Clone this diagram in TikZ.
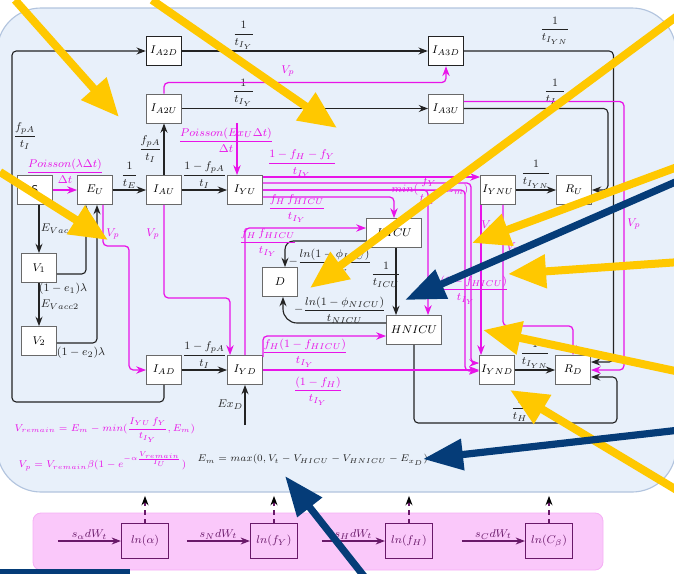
\documentclass[tikz,border=0pt]{standalone}
\usepackage{amsmath}
\usepackage{tikz}
\usetikzlibrary{arrows.meta, positioning, calc}
\definecolor{mymag}{RGB}{232,20,232}
\definecolor{mydark}{RGB}{35,35,35}
\definecolor{myedge}{RGB}{105,105,105}
\definecolor{mypurple}{RGB}{105,25,105}
\definecolor{hdrblue}{RGB}{232,240,250}
\definecolor{lineblue}{RGB}{178,196,222}
\definecolor{hdrpink}{RGB}{250,200,250}
\definecolor{linepink}{RGB}{245,175,245}
\definecolor{myyellow}{RGB}{255,200,0}
\definecolor{mynavy}{RGB}{5,60,120}
\tikzset{
  box/.style={rectangle, draw=myedge, fill=white, minimum width=0.875cm,
    minimum height=0.725cm, inner sep=1pt, line width=0.6pt},
  darkbox/.style={box, draw=mydark, line width=1pt},
  widebox/.style={box, minimum width=1.375cm},
  sbox/.style={rectangle, draw=mypurple, minimum width=1.175cm,
    minimum height=0.875cm, line width=0.8pt, text=mypurple},
  arrow/.style={-Stealth, line width=0.8pt, color=mydark, rounded corners=3pt},
  marrow/.style={-Stealth, line width=0.9pt, color=mymag, rounded corners=3pt},
  parrow/.style={-Stealth, line width=0.8pt, color=mypurple},
  dasharrow/.style={-{Stealth[black]}, dashed, line width=0.8pt, color=mypurple},
  lbl/.style={inner sep=1pt, text=mydark},
  mlbl/.style={inner sep=1pt, text=mymag},
  plbl/.style={inner sep=1pt, text=mypurple},
  formula/.style={inner sep=1pt, anchor=west, font=\fontsize{7}{8.5}\selectfont},
  yarrow/.style={-{Triangle[length=0.95cm, width=0.8cm]}, line width=0.2cm, color=myyellow},
  narrow/.style={-{Triangle[length=1cm, width=0.75cm]}, line width=0.18cm, color=mynavy}
}
\begin{document}
\begin{tikzpicture}[x=0.025cm, y=-0.025cm, font=\fontsize{8}{9.5}\selectfont]
  \useasboundingbox (0,0) rectangle (674,573);
  % panels
  \draw[fill=hdrblue, draw=lineblue, line width=0.8pt, rounded corners=1.1cm] (-3,8) rectangle (676,492);
  \draw[fill=hdrpink, draw=linepink, line width=0.6pt, rounded corners=0.2cm] (33,513) rectangle (603,570);

  % compartments
  \node[box] (S) at (35,190) {\textsf{S}};
  \node[box] (EU) at (95,190) {$E_U$};
  \node[box] (IAU) at (164,190) {$I_{AU}$};
  \node[box] (IYU) at (245,190) {$I_{YU}$};
  \node[box] (IYNU) at (498,190) {$I_{YNU}$};
  \node[box] (RU) at (574,190) {$R_U$};
  \node[darkbox] (IA2D) at (164,51) {$I_{A2D}$};
  \node[darkbox] (IA3D) at (446,51) {$I_{A3D}$};
  \node[box] (IA2U) at (164,108.5) {$I_{A2U}$};
  \node[box] (IA3U) at (446,108.5) {$I_{A3U}$};
  \node[widebox] (HICU) at (394,233) {$HICU$};
  \node[box] (D) at (280,282) {$D$};
  \node[widebox] (HNICU) at (414,330) {$HNICU$};
  \node[box] (V1) at (39,268) {$V_1$};
  \node[box] (V2) at (39,341) {$V_2$};
  \node[box] (IAD) at (164,370) {$I_{AD}$};
  \node[box] (IYD) at (245,370) {$I_{YD}$};
  \node[box] (IYND) at (497,370) {$I_{YND}$};
  \node[box] (RD) at (573,370) {$R_D$};

  % black flows
  \draw[arrow] (V1 |- S.south) -- node[right, lbl]{$E_{Vacc1}$} (V1.north);
  \draw[arrow] (V1) -- node[right, lbl]{$E_{Vacc2}$} (V2);
  \draw[arrow] ($(V1.east)+(0,6)$) -| ($(EU.south)+(-9,0)$);
  \node[lbl] (le1) at (63,289) {$(1-e_1)\lambda$};
  \draw[arrow] ($(V2.east)+(0,2)$) -| ($(EU.south)+(2,0)$);
  \node[lbl] (le2) at (81,353) {$(1-e_2)\lambda$};
  \draw[arrow] (EU) -- node[above, lbl]{$\dfrac{1}{t_E}$} (IAU);
  \draw[arrow] (IAU) -- node[left, lbl]{$\dfrac{f_{pA}}{t_I}$} (IA2U);
  \draw[arrow] (IAU) -- node[above, lbl]{$\dfrac{1-f_{pA}}{t_I}$} (IYU);
  \draw[arrow] (IA2U) -- node[above, lbl, pos=0.25]{$\dfrac{1}{t_{I_Y}}$} (IA3U);
  \draw[arrow] (IA2D) -- node[above, lbl, pos=0.25]{$\dfrac{1}{t_{I_Y}}$} (IA3D);
  \coordinate (loopL) at (12,402);
  \draw[arrow] (IAD.south) |- (loopL) |- (IA2D.west);
  \node[lbl] (lfpa) at (25,136) {$\dfrac{f_{pA}}{t_I}$};
  \draw[arrow] (IA3D.east) -| ($(RD.east)+(22.5,-8)$) -- ($(RD.east)+(0,-8)$);
  \node[lbl] (lyn1) at (555,31) {$\dfrac{1}{t_{I_{YN}}}$};
  \draw[arrow] (IA3U.east) -| ($(RU.east)+(16,0)$) -- (RU.east);
  \node[lbl] (ly2) at (555,93) {$\dfrac{1}{t_{I_Y}}$};
  \draw[arrow] (IYNU) -- node[above, lbl]{$\dfrac{1}{t_{I_{YN}}}$} (RU);
  \draw[arrow] (IYND) -- node[above, lbl]{$\dfrac{1}{t_{I_{YN}}}$} (RD);
  \draw[arrow] (HNICU.south) |- ($(RD.east)+(26,53)$) |- ($(RD.east)+(0,7)$);
  \node[lbl, anchor=south] (lth) at (520,423) {$\dfrac{1}{t_H}$};
  \draw[arrow] ($(HICU.south)+(2,0)$) coordinate (hx) -- (hx |- HNICU.north);
  \node[lbl] (licu) at (386,275) {$\dfrac{1}{t_{ICU}}$};
  \draw[arrow, rounded corners=6pt] ($(HICU.west)+(0,8)$) -| ($(D.north)+(5,0)$);
  \node[lbl] (lphi1) at (330,262) {$-\dfrac{ln(1-\phi_{ICU})}{t_{ICU}}$};
  \draw[arrow, rounded corners=10pt] ($(HNICU.west)+(0,-7)$) -| ($(D.south)+(3,0)$);
  \node[lbl] (lphi2) at (340,310) {$-\dfrac{ln(1-\phi_{NICU})}{t_{NICU}}$};
  \draw[arrow] (IAD) -- node[above, lbl]{$\dfrac{1-f_{pA}}{t_I}$} (IYD);
  \coordinate (exd) at (245,425);
  \draw[arrow] (exd) -- node[left, lbl]{$Ex_D$} (IYD);

  % magenta flows
  \draw[marrow] (S) -- node[above=3pt, mlbl]{$\dfrac{Poisson(\lambda\Delta t)}{\Delta t}$} (EU);
  \draw[marrow] ($(EU.south)+(8,0)$) -- ++(0,41) -| ($(IAD.west)+(-17,0)$) -- (IAD.west);
  \node[mlbl] (lvp1) at (113,234) {$V_p$};
  \draw[marrow] (IAU.south) -- ++(0,93) -| ($(IYD.north)+(-15,0)$);
  \node[mlbl] (lvp2) at (153,234) {$V_p$};
  \draw[marrow] (IA2U.north) -- ++(0,-11) -| (IA3D.south);
  \node[mlbl] (lvp3) at (288,71) {$V_p$};
  \coordinate (exu) at (237,123);
  \draw[marrow] (exu) -- ($(IYU.north)+(-8,0)$);
  \node[mlbl] (lpois) at (226,140) {$\dfrac{Poisson(Ex_U\Delta t)}{\Delta t}$};
  \draw[marrow] ($(IYU.east)+(0,-13)$) -- (IYNU.west |- {$(IYU.east)+(0,-13)$});
  \node[mlbl] (lnh) at (302,164) {$\dfrac{1-f_H-f_Y}{t_{I_Y}}$};
  \draw[marrow] ($(IYU.east)+(0,-7)$) -| ($(IYND.west)+(-8,-7)$) -- ($(IYND.west)+(0,-7)$);
  \draw[marrow] (IYU.east) -| ($(IYND.west)+(-14,1)$) -- ($(IYND.west)+(0,1)$);
  \draw[marrow] (IYU.east) -| ($(HNICU.north)+(14,0)$);
  \node[mlbl] (lmin) at (430,191) {$min(\dfrac{f_Y}{t_{I_Y}}, E_m)$};
  \draw[marrow] ($(IYU.east)+(0,7)$) -| (HICU.north);
  \node[mlbl] (lhicu1) at (297,209) {$\dfrac{f_H\,f_{HICU}}{t_{I_Y}}$};
  \draw[marrow] (IYD.north) |- ($(HICU.west)+(0,-5)$);
  \node[mlbl] (lhicu2) at (268,243) {$\dfrac{f_H\,f_{HICU}}{t_{I_Y}}$};
  \draw[marrow] ($(IYD.north east)+(0,2)$) |- ($(HNICU.west)+(0,6)$);
  \node[mlbl] (lhn1) at (305,353) {$\dfrac{f_H(1-f_{HICU})}{t_{I_Y}}$};
  \node[mlbl] (lhn2) at (466,290) {$\dfrac{f_H(1-f_{HICU})}{t_{I_Y}}$};
  \draw[marrow] (IYD) -- (IYND);
  \node[mlbl] (lyd) at (318,391) {$\dfrac{(1-f_H)}{t_{I_Y}}$};
  \draw[marrow] ($(IYNU.south)+(-17,0)$) -- ($(IYND.north)+(-16,0)$);
  \node[mlbl] (lvp4) at (488,226) {$V_p$};
  \draw[marrow] ($(IYNU.south)+(5,0)$) -- ++(0,121) -| (RD.north);
  \node[mlbl] (lvp5) at (513,248) {$V_p$};
  \draw[marrow] ($(IA3U.east)+(0,-7)$) -| ($(RD.east)+(33,0)$) -- (RD.east);
  \node[mlbl] (lvp6) at (634,224) {$V_p$};

  % formulas
  \node[formula, text=mymag] (fvrem) at (13,430) {$V_{remain} = E_m - min(\dfrac{I_{YU}\,f_Y}{t_{I_Y}}, E_m)$};
  \node[formula, text=mymag] (fvp) at (17,461) {$V_p = V_{remain}\beta(1-e^{-\alpha\frac{V_{remain}}{I_U}})$};
  \node[formula, text=mydark] (fem) at (196,460) {$E_m = max(0, V_t - V_{HICU} - V_{HNICU} - E_{x_D})$};

  % noise processes
  \node[sbox] (lnalpha) at (145,541) {$ln(\alpha)$};
  \node[sbox] (lnfy) at (274,541) {$ln(f_Y)$};
  \node[sbox] (lnfh) at (409,541) {$ln(f_H)$};
  \node[sbox] (lncb) at (549,541) {$ln(C_\beta)$};
  \foreach \n/\s in {lnalpha/s_\alpha, lnfy/s_N, lnfh/s_H, lncb/s_C} {
    \draw[parrow] ($(\n.west)+(-63,0)$) -- node[above, plbl]{$\s dW_t$} (\n.west);
    \draw[dasharrow] (\n.north) -- ++(0,-27);
  }

  % overlay pointers
  \draw[yarrow] (15,0) -- (119,117);
  \draw[yarrow] (152,0) -- (337,128);
  \draw[yarrow] (0,172) -- (108,240);
  \draw[yarrow] (680,14) -- (310,288);
  \draw[yarrow] (680,166) -- (472,243);
  \draw[yarrow] (680,262) -- (508,274);
  \draw[yarrow] (680,372) -- (483,330);
  \draw[yarrow] (680,492) -- (510,390);
  \draw[narrow] (680,180) -- (405,300);
  \draw[narrow] (680,430) -- (423,459);
  \draw[narrow] (367,580) -- (285,476);
  \fill[mynavy] (0,569) rectangle (130,574);
\end{tikzpicture}
\end{document}
